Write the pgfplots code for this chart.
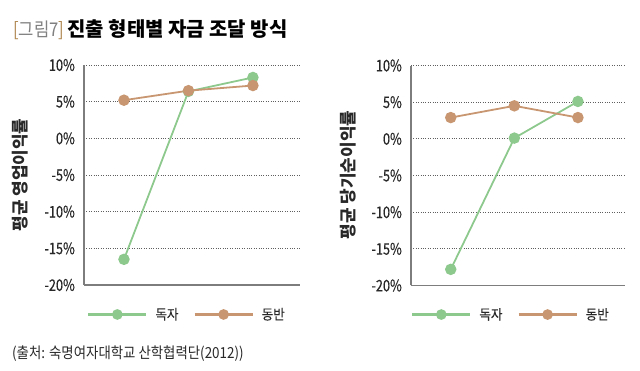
\documentclass[border=0pt]{standalone}
\usepackage{fontspec}
\usepackage{pgfplots}
\pgfplotsset{compat=1.18}
\setmainfont{Noto Sans CJK KR}
\newfontfamily\cond[FakeStretch=0.88]{Noto Sans CJK KR}
\newfontfamily\tickf[FakeStretch=0.8, FakeBold=0.4]{Noto Sans CJK KR}
\newfontfamily\legf[FakeStretch=0.9, FakeBold=0.3]{Noto Sans CJK KR}
\definecolor{cgreen}{RGB}{141,200,141}
\definecolor{cbrown}{RGB}{200,150,112}
\definecolor{axgray}{RGB}{125,125,125}
\definecolor{gridgray}{RGB}{95,95,95}
\definecolor{txt}{RGB}{40,40,40}
\definecolor{brk}{RGB}{175,135,80}

\pgfplotsset{
  myax/.style={
    scale only axis, height=220bp,
    ymin=-20, ymax=10,
    ytick={-20,-15,-10,-5,0,5,10},
    yticklabels={-20\%,-15\%,-10\%,-5\%,0\%,5\%,10\%},
    xtick=\empty,
    axis x line*=bottom, axis y line*=left,
    axis line style={-, axgray, line width=1.3pt},
    ymajorgrids, grid style={gridgray, dotted, line width=0.9pt},
    major tick length=0pt,
    yticklabel style={font=\tickf\fontsize{16}{16}\selectfont, text=txt, inner sep=0pt, xshift=-9bp},
    every axis plot/.append style={line width=1.8pt, mark=*, mark size=4.8bp},
    legend style={draw=none, fill=none, inner sep=0pt, font=\legf\fontsize{14}{14}\selectfont\color{txt},
      legend columns=2, anchor=west,
      nodes={inner sep=0pt},
      /tikz/every odd column/.append style={column sep=8bp},
      /tikz/every even column/.append style={column sep=15bp}},
    legend cell align=left,
    legend image code/.code={\draw[##1, line width=2.2pt, mark size=4.2bp, mark repeat=2, mark phase=2] plot coordinates {(0bp,0bp) (29bp,0bp) (58bp,0bp)};},
  }
}

\begin{document}
\begin{tikzpicture}
\path[use as bounding box] (0,0) rectangle (640bp,371bp);

\node[anchor=base west, inner sep=0pt] at (13bp,334bp)
  {\fontsize{19}{19}\selectfont{\cond\color{brk}[}{\cond\color{gray}그림7}{\cond\color{brk}]}\,{\fontsize{20}{20}\selectfont\bfseries\color{black}진출 형태별 자금 조달 방식}};

\node[anchor=base west, inner sep=0pt] at (12bp,13bp)
  {\cond\fontsize{15.3}{15.3}\selectfont\color{txt}(출처: 숙명여자대학교 산학협력단(2012))};

\node[rotate=90, inner sep=0pt] at (20bp,196bp) {\fontsize{17}{17}\selectfont\bfseries\color{txt}평균 영업이익률};
\node[rotate=90, inner sep=0pt] at (348bp,196bp) {\fontsize{17}{17}\selectfont\bfseries\color{txt}평균 당기순이익률};

\begin{axis}[myax, at={(84bp,86bp)}, anchor=south west, width=216bp,
  xmin=-0.62, xmax=2.73,
  legend style={at={(axis description cs:0.014,-0.134)}}]
\addplot[color=cgreen, mark options={fill=cgreen, draw=cgreen}] coordinates {(0,-16.5) (1,6.4) (2,8.3)};
\addplot[color=cbrown, mark options={fill=cbrown, draw=cbrown}] coordinates {(0,5.2) (1,6.5) (2,7.2)};
\legend{독자, 동반}
\end{axis}

\begin{axis}[myax, at={(411bp,85.5bp)}, anchor=south west, width=214bp,
  xmin=-0.625, xmax=2.74,
  legend style={at={(axis description cs:0,-0.132)}}]
\addplot[color=cgreen, mark options={fill=cgreen, draw=cgreen}] coordinates {(0,-17.8) (1,0.1) (2,5.1)};
\addplot[color=cbrown, mark options={fill=cbrown, draw=cbrown}] coordinates {(0,2.9) (1,4.5) (2,2.9)};
\legend{독자, 동반}
\end{axis}
\end{tikzpicture}
\end{document}
